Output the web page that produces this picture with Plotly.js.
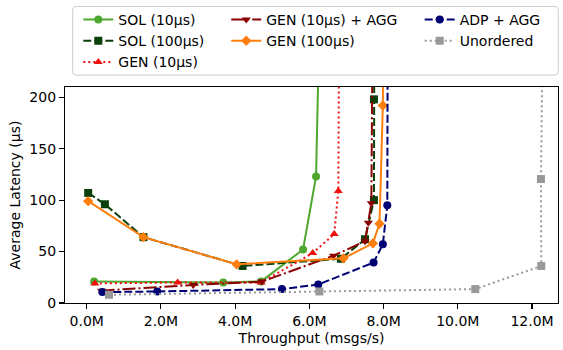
<!DOCTYPE html>
<html>
<head>
<meta charset="utf-8">
<script src="https://cdn.plot.ly/plotly-3.0.1.min.js"></script>
<style>html,body{margin:0;padding:0;background:#fff;}#chart{width:563px;height:350px;}</style>
</head>
<body>
<div id="chart"></div>
<script>
// Throughput in millions of msgs/s, latency in microseconds
var sol10X = [0.2, 3.68, 4.7, 5.83, 6.18, 6.3];
var sol10Y = [21, 20, 21, 52, 123, 320];

var sol100X = [0.04, 0.49, 1.53, 4.2, 6.85, 7.5, 7.74, 7.74, 7.76];
var sol100Y = [107, 96, 64, 36, 43, 62, 100, 198, 400];

var gen10X = [0.22, 2.45, 4.7, 6.09, 6.67, 6.78, 6.82];
var gen10Y = [19, 20, 20, 48.5, 67, 109, 400];

var gen10AggX = [0.4, 2.87, 4.72, 6.65, 7.5, 7.59, 7.67, 7.73];
var gen10AggY = [12, 17.6, 20.8, 46, 60, 78, 97, 400];

var gen100X = [0.04, 1.53, 4.04, 6.92, 7.71, 7.89, 7.98, 8.02];
var gen100Y = [99, 64, 37.6, 43.4, 58, 77, 192, 400];

var adpAggX = [0.42, 1.9, 5.26, 6.24, 7.73, 7.98, 8.1, 8.12];
var adpAggY = [10.6, 11.2, 13.5, 18, 39.3, 57.2, 95, 400];

var unorderedX = [0.6, 6.27, 10.47, 12.25, 12.24, 12.34];
var unorderedY = [8, 11.2, 13.5, 36, 120.5, 400];

var seriesNames = ["SOL (10μs)", "SOL (100μs)", "GEN (10μs)", "GEN (10μs) + AGG", "GEN (100μs)", "ADP + AGG", "Unordered"];

var xTickVals = [0, 2, 4, 6, 8, 10, 12];
var xTickText = ["0.0M", "2.0M", "4.0M", "6.0M", "8.0M", "10.0M", "12.0M"];
var yTickVals = [0, 50, 100, 150, 200];

var LW = 2;
var MS = 8;
function tr(x, y, name, color, dash, symbol, legend) {
  return {
    type: 'scatter', mode: 'lines+markers', x: x, y: y, name: name, legend: legend,
    line: {color: color, width: LW, dash: dash},
    marker: {color: color, size: MS, symbol: symbol, line: {width: 0}},
    cliponaxis: true
  };
}

var data = [
  tr(sol10X, sol10Y, seriesNames[0], '#4ea72e', 'solid', 'circle', 'legend'),
  tr(sol100X, sol100Y, seriesNames[1], '#0b400b', '8px,3px', 'square', 'legend'),
  tr(gen10X, gen10Y, seriesNames[2], '#f01010', '2px,3px', 'triangle-up', 'legend'),
  tr(gen10AggX, gen10AggY, seriesNames[3], '#8b0000', '13px,3px,2px,3px', 'triangle-down', 'legend2'),
  tr(gen100X, gen100Y, seriesNames[4], '#ff7f0e', 'solid', 'diamond', 'legend2'),
  tr(adpAggX, adpAggY, seriesNames[5], '#000075', '8px,3px', 'circle', 'legend3'),
  tr(unorderedX, unorderedY, seriesNames[6], '#999999', '2px,3px', 'square', 'legend3')
];

var FONT = 'DejaVu Sans, sans-serif';
var legBase = {
  orientation: 'v', xanchor: 'left', yanchor: 'top', y: 1.378,
  bgcolor: 'rgba(0,0,0,0)', borderwidth: 0,
  font: {family: FONT, size: 14, color: '#000'},
  tracegroupgap: 0
};
function leg(x) { var o = JSON.parse(JSON.stringify(legBase)); o.x = x; return o; }

// legend frame (rounded rectangle in paper coords)
var fx0 = 0.0156, fx1 = 1.0006, fy0 = 1.0552, fy1 = 1.3728, rx = 0.007, ry = 0.016;
var framePath = 'M' + (fx0 + rx) + ',' + fy1 +
  ' L' + (fx1 - rx) + ',' + fy1 + ' Q' + fx1 + ',' + fy1 + ' ' + fx1 + ',' + (fy1 - ry) +
  ' L' + fx1 + ',' + (fy0 + ry) + ' Q' + fx1 + ',' + fy0 + ' ' + (fx1 - rx) + ',' + fy0 +
  ' L' + (fx0 + rx) + ',' + fy0 + ' Q' + fx0 + ',' + fy0 + ' ' + fx0 + ',' + (fy0 + ry) +
  ' L' + fx0 + ',' + (fy1 - ry) + ' Q' + fx0 + ',' + fy1 + ' ' + (fx0 + rx) + ',' + fy1 + ' Z';

var layout = {
  width: 563, height: 350,
  margin: {l: 65, r: 5, t: 86, b: 46.7},
  paper_bgcolor: '#fff', plot_bgcolor: '#fff',
  font: {family: FONT, size: 14, color: '#000'},
  showlegend: true,
  legend: leg(0.027),
  legend2: leg(0.327),
  legend3: leg(0.7195),
  xaxis: {
    range: [-0.585, 12.70], tickvals: xTickVals, ticktext: xTickText,
    showline: true, linecolor: '#000', linewidth: 1.1, mirror: true,
    ticks: 'outside', ticklen: 5, tickwidth: 1.1, tickcolor: '#000',
    showgrid: false, zeroline: false,
    tickfont: {family: FONT, size: 14, color: '#000'},
    title: {text: 'Throughput (msgs/s)', font: {family: FONT, size: 14, color: '#000'}, standoff: 5}
  },
  yaxis: {
    range: [0, 210], tickvals: yTickVals,
    showline: true, linecolor: '#000', linewidth: 1.1, mirror: true,
    ticks: 'outside', ticklen: 5, tickwidth: 1.1, tickcolor: '#000',
    showgrid: false, zeroline: false,
    tickfont: {family: FONT, size: 14, color: '#000'},
    title: {text: 'Average Latency (μs)', font: {family: FONT, size: 14, color: '#000'}, standoff: 5}
  },
  shapes: [{
    type: 'path', xref: 'paper', yref: 'paper', path: framePath,
    line: {color: '#cccccc', width: 1}, fillcolor: 'rgba(255,255,255,0.8)', layer: 'above'
  }]
};

Plotly.newPlot('chart', data, layout, {displayModeBar: false, staticPlot: true});
</script>
</body>
</html>
